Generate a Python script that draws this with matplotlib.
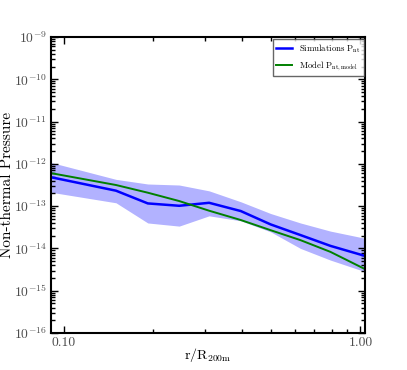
import numpy as np
import matplotlib
matplotlib.use('Agg')
import matplotlib.pyplot as plt
from matplotlib.ticker import FormatStrFormatter, NullFormatter

# radial bins, r / R200m
r_sim = [0.091, 0.150, 0.192, 0.245, 0.309, 0.395, 0.498, 0.628, 0.792, 1.04]
# simulated non-thermal pressure, median and scatter
p_sim = [4.8e-13, 2.32e-13, 1.16e-13, 1.02e-13, 1.2e-13, 7.66e-14, 3.7e-14, 2.07e-14, 1.15e-14, 6.6e-15]
p_hi = [1.07e-12, 4.3e-13, 3.34e-13, 3.16e-13, 2.3e-13, 1.27e-13, 6.7e-14, 4.0e-14, 2.57e-14, 1.73e-14]
p_lo = [2.12e-13, 1.2e-13, 4.0e-14, 3.37e-14, 5.9e-14, 4.5e-14, 2.47e-14, 1.0e-14, 5.3e-15, 2.8e-15]
# model curve
p_model = [6.0e-13, 3.16e-13, 2.08e-13, 1.32e-13, 7.8e-14, 4.7e-14, 2.7e-14, 1.57e-14, 8.3e-15, 3.2e-15]

matplotlib.rcParams['font.family'] = 'serif'
matplotlib.rcParams['font.serif'] = ['cmr10']
matplotlib.rcParams['mathtext.fontset'] = 'cm'
matplotlib.rcParams['axes.formatter.use_mathtext'] = True

fig = plt.figure(figsize=(4.07, 3.70), dpi=100)
ax = fig.add_axes([0.125, 0.1, 0.773, 0.8])

ax.fill_between(r_sim, p_lo, p_hi, color='b', alpha=0.3, linewidth=0)
ax.plot(r_sim, p_sim, color='b', lw=1.8, label=r'Simulations P$_{\rm nt}$')
ax.plot(r_sim, p_model, color='g', lw=1.4, label=r'Model P$_{\rm nt,model}$')

ax.set_xscale('log')
ax.set_yscale('log')
ax.set_xlim(0.0905, 1.04)
ax.set_ylim(1e-16, 1e-9)

ax.xaxis.set_major_formatter(FormatStrFormatter('%.2f'))
ax.xaxis.set_minor_formatter(NullFormatter())
ax.yaxis.set_minor_formatter(NullFormatter())

ax.tick_params(which='both', direction='in', top=True, right=True, labelsize=9.8, labelcolor='0.3')
ax.tick_params(which='major', length=5, width=1, pad=3)
ax.tick_params(which='minor', length=3, width=1)
for s in ax.spines.values():
    s.set_linewidth(1.5)

ax.set_xlabel(r'r/R$_{\rm 200m}$', fontsize=10)
ax.set_ylabel('Non-thermal Pressure', fontsize=11)
ax.xaxis.set_label_coords(0.5, -0.045)
ax.yaxis.set_label_coords(-0.118, 0.5)

leg = ax.legend(loc='upper right', fontsize=6.3, fancybox=False, handlelength=1.8, borderaxespad=0.2)
leg.get_frame().set_edgecolor('0.25')

fig.savefig('out.png', dpi=100)
